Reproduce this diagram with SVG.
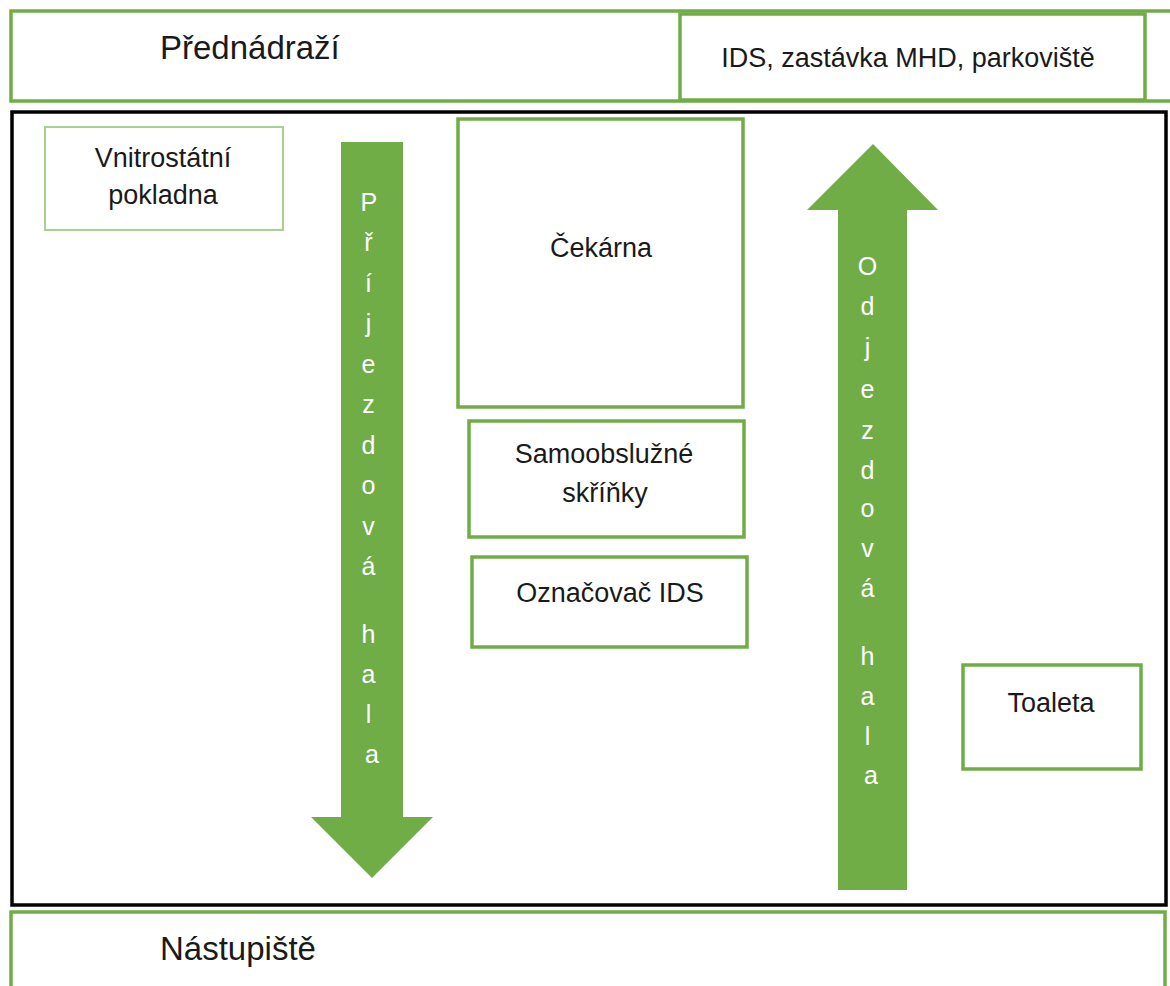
<svg xmlns="http://www.w3.org/2000/svg" width="1170" height="986" viewBox="0 0 1170 986">
  <style>
    .box { fill: #ffffff; stroke: #70ad47; stroke-width: 3.5; }
    .thin { fill: #ffffff; stroke: #a9d18e; stroke-width: 2; }
    .hall { fill: #ffffff; stroke: #000000; stroke-width: 3.5; }
    .lbl { font-family: "Liberation Sans", Arial, sans-serif; font-size: 27px; fill: #1a1a1a; }
    .big { font-family: "Liberation Sans", Arial, sans-serif; font-size: 33px; fill: #1a1a1a; }
    .arrow { fill: #70ad47; }
    .vt { font-family: "Liberation Sans", Arial, sans-serif; font-size: 25px; fill: #ffffff; text-anchor: middle; }
    .c { text-anchor: middle; }
  </style>
  <rect width="1170" height="986" fill="#ffffff"/>

  <!-- forecourt strip -->
  <g id="prednadrazi">
    <rect class="box" x="11" y="11" width="1175" height="90"/>
    <text class="big" x="160" y="59">Přednádraží</text>
  </g>
  <g id="ids-mhd">
    <rect class="box" x="680" y="14" width="465" height="86"/>
    <text class="lbl c" x="908" y="67">IDS, zastávka MHD, parkoviště</text>
  </g>

  <!-- station hall outline -->
  <g id="hala">
    <rect class="hall" x="12" y="112" width="1154" height="793"/>
  </g>

  <!-- platform strip -->
  <g id="nastupiste">
    <rect class="box" x="11" y="912" width="1154" height="100"/>
    <text class="big" x="160" y="960">Nástupiště</text>
  </g>

  <g id="pokladna">
    <rect class="thin" x="45" y="127" width="238" height="103"/>
    <text class="lbl c" x="163" y="167">Vnitrostátní</text>
    <text class="lbl c" x="163" y="204">pokladna</text>
  </g>

  <g id="cekarna">
    <rect class="box" x="458" y="119" width="285" height="288"/>
    <text class="lbl c" x="601" y="257">Čekárna</text>
  </g>

  <g id="skrinky">
    <rect class="box" x="469" y="421" width="275" height="116"/>
    <text class="lbl c" x="604" y="463">Samoobslužné</text>
    <text class="lbl c" x="605" y="502">skříňky</text>
  </g>

  <g id="oznacovac">
    <rect class="box" x="472" y="557" width="275" height="90"/>
    <text class="lbl c" x="610" y="602">Označovač IDS</text>
  </g>

  <g id="toaleta">
    <rect class="box" x="963" y="665" width="178" height="104"/>
    <text class="lbl c" x="1051" y="712">Toaleta</text>
  </g>

  <!-- flow arrows through the hall -->
  <g id="connectors">
    <g id="prijezdova-hala">
      <polygon class="arrow" points="341,142 403,142 403,817 433,817 372,878 311,817 341,817"/>
      <text class="vt">
        <tspan x="372" y="211">P</tspan>
        <tspan x="372" y="251">ř</tspan>
        <tspan x="372" y="292">í</tspan>
        <tspan x="372" y="332">j</tspan>
        <tspan x="372" y="373">e</tspan>
        <tspan x="372" y="413">z</tspan>
        <tspan x="372" y="454">d</tspan>
        <tspan x="372" y="494">o</tspan>
        <tspan x="372" y="535">v</tspan>
        <tspan x="372" y="575">á</tspan>
        <tspan x="372" y="643">h</tspan>
        <tspan x="372" y="683">a</tspan>
        <tspan x="372" y="723">l</tspan>
        <tspan x="372" y="763">a</tspan>
      </text>
    </g>
    <g id="odjezdova-hala">
      <polygon class="arrow" points="873,144 938,210 907,210 907,890 838,890 838,210 807,210"/>
      <text class="vt">
        <tspan x="871" y="275">O</tspan>
        <tspan x="871" y="315">d</tspan>
        <tspan x="871" y="356">j</tspan>
        <tspan x="871" y="398">e</tspan>
        <tspan x="871" y="439">z</tspan>
        <tspan x="871" y="479">d</tspan>
        <tspan x="871" y="517">o</tspan>
        <tspan x="871" y="557">v</tspan>
        <tspan x="871" y="597">á</tspan>
        <tspan x="871" y="665">h</tspan>
        <tspan x="871" y="705">a</tspan>
        <tspan x="871" y="745">l</tspan>
        <tspan x="871" y="784">a</tspan>
      </text>
    </g>
  </g>
</svg>
